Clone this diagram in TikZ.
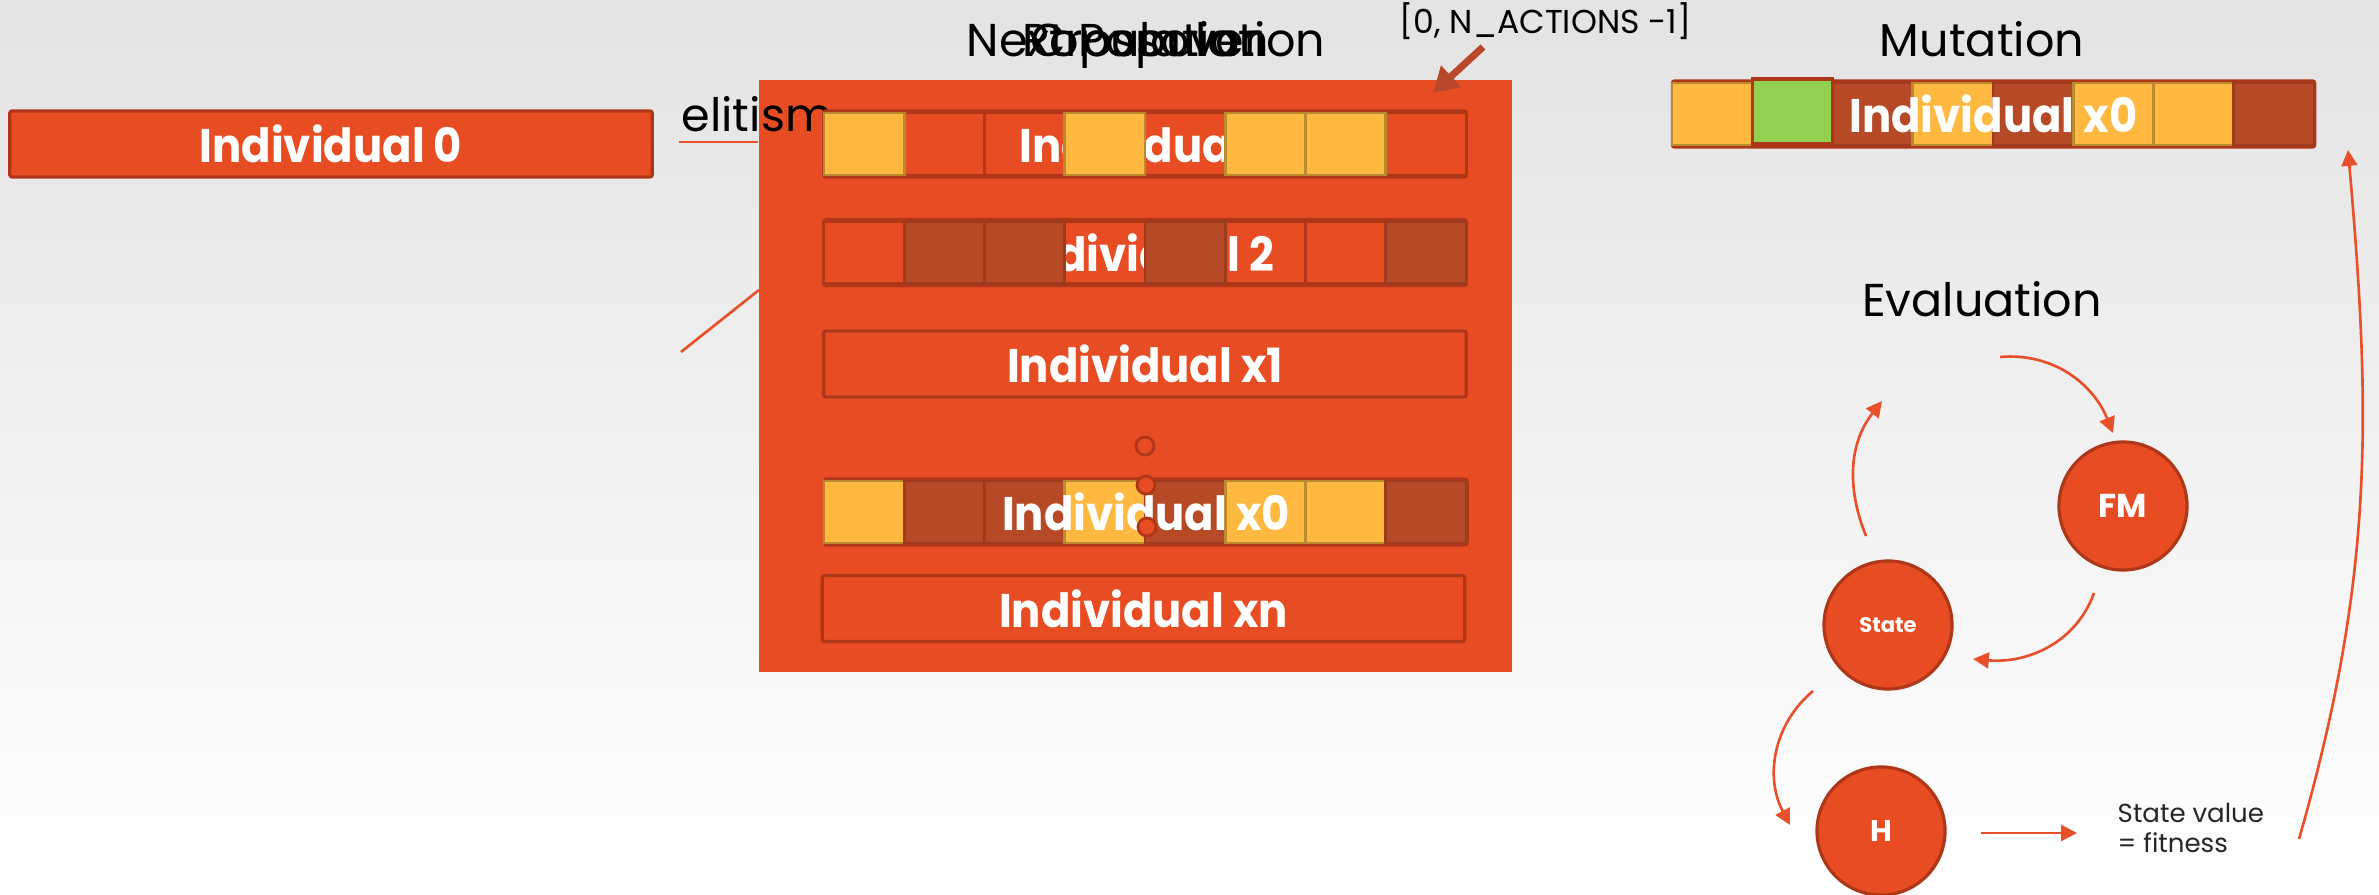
\documentclass[tikz,border=0pt]{standalone}
\usepackage{fontspec}
\setmainfont{Poppins}
\newfontfamily\rowfamily{Poppins}[FakeStretch=0.92]
\usetikzlibrary{arrows.meta,shapes.geometric}

\definecolor{bgtop}{HTML}{E3E3E3}
\definecolor{ora}{HTML}{E84C22}
\definecolor{oraline}{HTML}{AE3719}
\definecolor{geneY}{HTML}{FFB941}
\definecolor{lineY}{HTML}{BA8A2E}
\definecolor{geneD}{HTML}{B64A26}
\definecolor{lineD}{HTML}{9E3A1D}
\definecolor{geneG}{HTML}{92D050}
\definecolor{flowc}{HTML}{E8502A}
\definecolor{pick}{HTML}{B9472A}

% one row of eight genes: left x, top y, height, list of cell styles
\newcommand{\genecells}[4]{%
  \foreach \g [count=\i from 0] in {#4}{%
    \path[\g] ({#1+\i*80.25},{#2}) rectangle ++(80.25,#3);}}

\begin{document}
\begin{tikzpicture}[x=0.01cm,y=-0.01cm,
  rowbox/.style={draw=oraline, line width=0.9pt, fill=ora, rounded corners=0.6pt,
    minimum width=6.42cm, minimum height=0.66cm, inner sep=0pt},
  rowtext/.style={text=white, inner sep=0pt,
    font=\rowfamily\bfseries\fontsize{13.4pt}{14pt}\selectfont},
  title/.style={anchor=base, inner sep=0pt, text=black,
    font=\fontsize{13.1pt}{15pt}\selectfont},
  gO/.style={draw=oraline, line width=0.8pt, fill=ora},
  gY/.style={draw=lineY, line width=0.8pt, fill=geneY},
  gD/.style={draw=lineD, line width=0.8pt, fill=geneD},
  gN/.style={},
  evalnode/.style={circle, draw=oraline, line width=0.9pt, fill=ora,
    minimum size=1.28cm, inner sep=0pt, text=white},
  flow/.style={draw=flowc, line width=0.75pt, -{Triangle[length=4.5pt,width=4.5pt]}},
  eline/.style={draw=flowc, line width=0.75pt},
  dotmark/.style={circle, draw=oraline, fill=ora, line width=0.8pt,
    minimum size=0.18cm, inner sep=0pt},
]
\useasboundingbox (0,0) rectangle (2379,894);
\shade[top color=bgtop, bottom color=white] (0,0) rectangle (2379,894);

% elite individual
\node[rowbox, rowtext] (ind0) at (331,144) {Individual 0};

% population block
\node[fill=ora, minimum width=7.53cm, minimum height=5.92cm, inner sep=0pt] (pop) at (1135.5,376) {};

% elitism links
\coordinate (el1) at (679,142);
\coordinate (el2) at (681,352);
\coordinate (el3) at (759,290);
\draw[eline] (el1) -- (el1 -| pop.west);
\draw[eline] (el2) -- (el3);
\node[anchor=base west, inner sep=0pt, font=\fontsize{13.1pt}{15pt}\selectfont] (elit) at (681,132) {elitism};

% overlapping titles
\node[title] (tnext) at (1146,57) {Next Population};
\node[title] (tpop) at (1146,57) {Population};
\node[title] (tcross) at (1146,57) {Crossover};

% gene range label
\node[anchor=base west, inner sep=0pt, font=\fontsize{9.4pt}{11pt}\selectfont] (range) at (1399,34) {[0, N\_ACTIONS -1]};
\coordinate (pk1) at (1483,47);
\coordinate (pk2) at (1433,93);
\draw[pick, line width=2pt, -{Triangle[length=7pt,width=8pt]}] (pk1) -- (pk2);

% individual 1
\node[rowbox] (r1) at (1145,144) {};
\genecells{824}{113}{62}{gN,gO,gO,gN,gO,gN,gN,gO}
\node[rowtext] (r1t) at (r1) {Individual 1};
\genecells{824}{113}{62}{gY,gN,gN,gY,gN,gY,gY,gN}

% individual 2
\node[rowbox] (r2) at (1145,252.5) {};
\genecells{824}{221.5}{62}{gO,gN,gN,gO,gN,gO,gO,gN}
\node[rowtext] (r2t) at (r2) {Individual 2};
\genecells{824}{221.5}{62}{gN,gD,gD,gN,gD,gN,gN,gD}

% individual x1
\node[rowbox, rowtext] (rx1) at (1145,364) {Individual x1};

% individual x0
\node[rowbox] (rx0) at (1146,512) {};
\genecells{824}{481}{62}{gY,gD,gD,gY,gD,gY,gY,gD}
\node[rowtext] (rx0t) at (rx0) {Individual x0};

% individual xn
\node[rowbox, rowtext] (rxn) at (1143.5,608.5) {Individual xn};

% dots
\node[dotmark] (d1) at (1145,446) {};
\node[dotmark] (d2) at (1146,485) {};
\node[dotmark] (d3) at (1147,527) {};

% mutation
\node[title] (tmut) at (1982,57) {Mutation};
\node[rowbox] (mut) at (1993.5,114) {};
\genecells{1672}{83}{62}{gY,gN,gD,gY,gD,gY,gY,gD}
\draw[draw=oraline, line width=0.9pt, fill=geneG] (1752.25,79) rectangle (1832.5,144);
\node[rowtext] (mutt) at (mut) {Individual x0};

% evaluation
\node[title] (teval) at (1982,317) {Evaluation};
\node[evalnode, font=\bfseries\fontsize{9.4pt}{10pt}\selectfont] (fm) at (2123,506) {FM};
\node[evalnode, font=\bfseries\fontsize{6pt}{7pt}\selectfont] (st) at (1888,625) {State};
\node[evalnode, font=\bfseries\fontsize{8.5pt}{9pt}\selectfont] (h) at (1881,831) {H};

\coordinate (a1s) at (1866,536);
\coordinate (a1e) at (1882,401);
\coordinate (a2s) at (2000,357);
\coordinate (a2e) at (2113,433);
\coordinate (a3s) at (2094,593);
\coordinate (a3e) at (1973,659);
\coordinate (a4s) at (1813,691);
\coordinate (a4e) at (1790,825);
\coordinate (a5s) at (1981,833);
\coordinate (a5e) at (2077,833);
\coordinate (a6s) at (2299,839);
\coordinate (a6e) at (2348,150);

\draw[flow] (a1s) to[out=112, in=232] (a1e);
\draw[flow] (a2s) to[out=5, in=112] (a2e);
\draw[flow] (a3s) to[out=-110, in=-5] (a3e);
\draw[flow] (a4s) to[out=-140, in=118] (a4e);
\draw[flow] (a5s) -- (a5e);
\draw[flow] (a6s) to[out=74, in=-85] (a6e);

\node[anchor=north west, align=left, inner sep=0pt, text=black!85,
  font=\fontsize{7.4pt}{8.3pt}\selectfont] (sv) at (2117,803) {State value\\= fitness};
\end{tikzpicture}
\end{document}
